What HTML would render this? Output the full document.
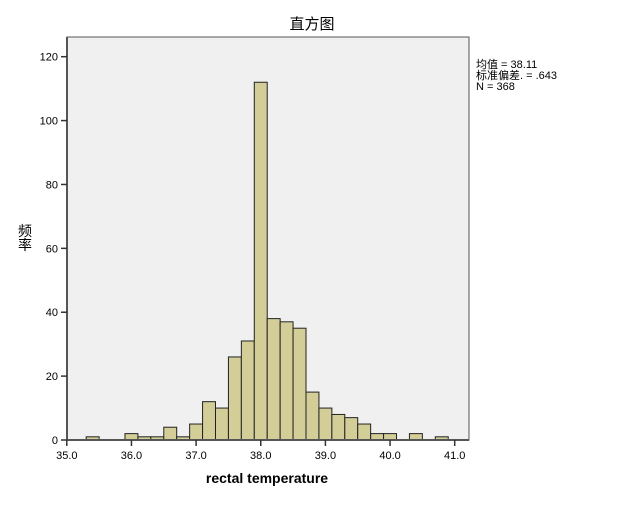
<!DOCTYPE html>
<html><head><meta charset="utf-8"><style>
body{margin:0;background:#fff;}
svg text{font-family:"Liberation Sans","Noto Sans CJK SC",sans-serif;}
</style></head><body>
<svg width="625" height="500" xmlns="http://www.w3.org/2000/svg">
<rect x="0" y="0" width="625" height="500" fill="#fff"/>
<rect x="67" y="37" width="402" height="403" fill="#f0f0f0" stroke="#555" stroke-width="1"/>
<g id="bars"></g>
<g id="axes"></g>
<text x="312" y="29" font-size="15" text-anchor="middle" fill="#000">直方图</text>
<text x="25" y="236" font-size="14" text-anchor="middle" fill="#000">频</text>
<text x="25" y="250" font-size="14" text-anchor="middle" fill="#000">率</text>
<text x="267" y="483" font-size="14" font-weight="bold" text-anchor="middle" fill="#000">rectal temperature</text>
<g font-size="11" fill="#000">
<text x="476" y="68">均值 = 38.11</text>
<text x="476" y="79">标准偏差. = .643</text>
<text x="476" y="90">N = 368</text>
</g>
</svg>
<script>
const binStarts=[35.3,35.5,35.7,35.9,36.1,36.3,36.5,36.7,36.9,37.1,37.3,37.5,37.7,37.9,38.1,38.3,38.5,38.7,38.9,39.1,39.3,39.5,39.7,39.9,40.1,40.3,40.5,40.7];
const counts=[1,0,0,2,1,1,4,1,5,12,10,26,31,112,38,37,35,15,10,8,7,5,2,2,0,2,0,1];
const binWidth=0.2;
const xTicks=[35,36,37,38,39,40,41];
const xTickLabels=["35.0","36.0","37.0","38.0","39.0","40.0","41.0"];
const yTicks=[0,20,40,60,80,100,120];
const NS="http://www.w3.org/2000/svg";
const sx=v=>66.8+(v-35)*64.65;
const sy=v=>440-v*(440-56.7)/120;
const bars=document.getElementById('bars');
binStarts.forEach((b,i)=>{
  if(counts[i]<=0)return;
  const r=document.createElementNS(NS,'rect');
  r.setAttribute('x',sx(b));r.setAttribute('y',sy(counts[i]));
  r.setAttribute('width',sx(b+binWidth)-sx(b));r.setAttribute('height',sy(0)-sy(counts[i]));
  r.setAttribute('fill','#d3ce97');r.setAttribute('stroke','#222');r.setAttribute('stroke-width','1');
  
  
  bars.appendChild(r);
});
const ax=document.getElementById('axes');
function line(x1,y1,x2,y2,w,c,n){const l=document.createElementNS(NS,'line');l.setAttribute('x1',x1);l.setAttribute('y1',y1);l.setAttribute('x2',x2);l.setAttribute('y2',y2);l.setAttribute('stroke',c);l.setAttribute('stroke-width',w);


ax.appendChild(l);}
function text(x,y,s,a,n){const t=document.createElementNS(NS,'text');t.setAttribute('x',x);t.setAttribute('y',y);t.setAttribute('font-size','11');t.setAttribute('text-anchor',a);t.textContent=s;


ax.appendChild(t);}
line(67,37,67,441,2,'#555','y-axis-line');
line(66,440,469,440,2,'#555','x-axis-line');
yTicks.forEach(v=>{line(61,sy(v),67,sy(v),1.5,'#333','y-tick');text(58,sy(v)+4,String(v),'end','y-tick-label');});
xTicks.forEach((v,i)=>{line(sx(v),440,sx(v),446,1.5,'#333','x-tick');text(sx(v),459,xTickLabels[i],'middle','x-tick-label');});
</script>
</body></html>
